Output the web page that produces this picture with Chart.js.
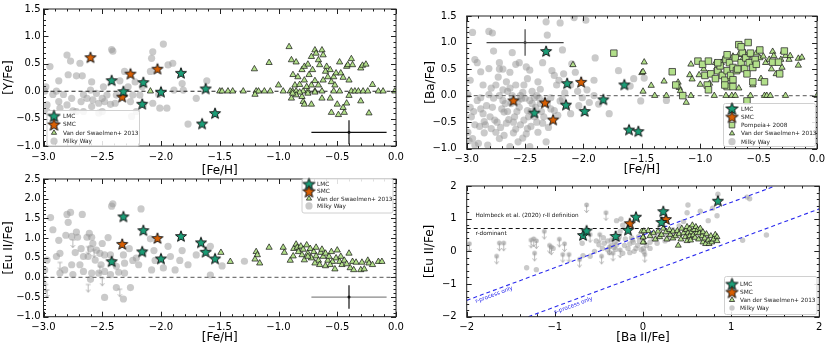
<!DOCTYPE html>
<html>
<head>
<meta charset="utf-8">
<script src="https://cdn.jsdelivr.net/npm/chart.js@4.4.1/dist/chart.umd.min.js"></script>
<style>
  body { margin: 0; background: #fff; }
  #wrap { position: relative; width: 830px; height: 349px; overflow: hidden; background: #fff; }
  #wrap canvas { position: absolute; }
</style>
</head>
<body>
<div id="wrap">
  <canvas id="pY" width="415" height="182" style="left:0;top:0"></canvas>
  <canvas id="pBa" width="415" height="182" style="left:415px;top:0"></canvas>
  <canvas id="pEu" width="415" height="179" style="left:0;top:170px"></canvas>
  <canvas id="pEuBa" width="415" height="179" style="left:415px;top:170px"></canvas>
</div>
<script>
// ---- data: [x, y] pairs ----
// panel a: [Y/Fe] vs [Fe/H]
const lmcY = [[-2.42,0.20],[-2.32,0.00],[-2.15,0.165],[-2.16,-0.23],[-2.00,-0.01],[-1.83,0.335],[-1.62,0.05],[-1.54,-0.40],[-1.65,-0.59]];
const smcY = [[-2.60,0.62],[-2.26,0.32],[-2.33,-0.10],[-2.03,0.41]];
const vdsY = [
  [-2.09,0],[-1.50,0],[-1.48,0],[-1.43,0],[-1.39,0],[-1.30,0],[-1.19,0],[-1.17,0],[-1.12,0],[-1.07,0],[-0.96,0],[-0.90,0],[-0.88,0],[-0.85,0],
  [-0.79,0],[-0.75,0],[-0.69,0],[-0.63,0],[-0.53,0],[-0.48,0],[-0.38,0],[-0.35,0],[-0.32,0],[-0.28,0],[-0.24,0],[-0.15,0],[-0.11,0],[-0.01,0],
  [-1.205,0.405],[-1.08,0.52],[-1.00,0.11],[-1.20,-0.06],[-0.91,0.81],[-0.89,0.57],[-0.85,0.53],[-0.877,0.30],[-0.86,0.11],[-0.835,0.26],
  [-0.82,0.12],[-0.80,0.39],[-0.78,0.45],[-0.78,0.20],[-0.76,0.08],[-0.75,0.49],[-0.74,0.30],[-0.72,0.63],[-0.71,0.39],[-0.69,0.75],
  [-0.68,0.69],[-0.66,0.57],[-0.65,0.48],[-0.63,0.75],[-0.62,0.66],[-0.60,0.36],[-0.59,0.45],[-0.58,0.26],[-0.56,0.39],[-0.55,0.17],
  [-0.53,0.26],[-0.52,0.11],[-0.51,0.33],[-0.48,0.53],[-0.47,0.33],[-0.45,0.25],[-0.42,0.45],[-0.41,0.48],[-0.40,0.20],[-0.38,0.59],
  [-0.37,0.48],[-0.30,0.42],[-0.285,0.47],[-0.256,0.49],[-0.20,0.12],[-0.80,-0.10],[-0.79,-0.19],[-0.78,-0.24],[-0.72,-0.24],[-0.82,-0.02],
  [-0.75,-0.04],[-0.85,-0.07],[-0.69,-0.02],[-0.63,-0.13],[-0.56,-0.13],[-0.55,-0.39],[-0.50,-0.24],[-0.49,-0.43],[-0.45,-0.30],[-0.44,-0.39],
  [-0.42,-0.22],[-0.40,-0.08],[-0.30,-0.18],[-0.23,-0.40],[-0.89,-0.13],[-0.88,-0.04],[-0.72,0.11],[-0.66,0.11],[-0.62,0.20],[-0.69,0.19]
];
const mwY = [
  [-2.98,0.08],[-2.945,0.45],[-2.97,-0.25],[-2.89,0.0],[-2.87,-0.19],[-2.92,-0.06],[-2.87,0.19],[-2.80,0.66],[-2.77,0.55],[-2.79,0.30],
  [-2.83,-0.06],[-2.80,-0.25],[-2.76,-0.13],[-2.75,-0.36],[-2.72,0.28],[-2.69,0.51],[-2.67,0.28],[-2.68,-0.19],[-2.66,-0.06],[-2.60,0.02],
  [-2.59,0.17],[-2.59,-0.28],[-2.58,-0.16],[-2.55,-0.04],[-2.53,-0.22],[-2.50,-0.37],[-2.49,0.08],[-2.48,-0.19],[-2.46,-0.07],[-2.43,-0.24],
  [-2.42,0.76],[-2.41,0.73],[-2.39,-0.22],[-2.38,-0.07],[-2.31,0.36],[-2.28,0.08],[-2.26,-0.19],[-2.24,-0.07],[-2.22,0.17],[-2.21,-0.37],
  [-2.18,-0.07],[-2.16,0.08],[-2.15,-0.24],[-2.09,0.36],[-2.08,0.60],[-2.07,-0.22],[-2.07,0.72],[-2.02,-0.06],[-2.01,-0.31],[-1.98,0.86],
  [-1.95,-0.31],[-1.94,0.48],[-1.90,0.51],[-1.89,0.02],[-1.82,0.14],[-1.81,0.02],[-1.77,-0.60],[-1.70,-0.13],[-1.61,0.19],[-2.92,-0.43],
  [-2.86,-0.31],[-2.72,-0.37],[-2.66,-0.37],[-2.53,-0.40],[-2.63,-0.13],[-2.50,-0.13],[-2.25,-0.46],[-2.99,0.0],[-2.97,-0.37],[-2.35,0.19]
];
const errY = [-0.4, -0.75, 0.32, 0.22];   // x, y, xerr, yerr

// panel b: [Ba/Fe] vs [Fe/H]
const lmcBa = [[-2.32,0.84],[-2.14,0.235],[-2.15,-0.17],[-2.42,-0.32],[-1.99,-0.29],[-1.83,-0.07],[-1.65,0.21],[-1.61,-0.64],[-1.53,-0.67]];
const smcBa = [[-2.60,-0.09],[-2.33,-0.13],[-2.26,-0.45],[-2.02,0.26]];
const pompBa = [
  [-1.74,0.80],[-1.24,0.45],[-1.21,0.20],[-1.15,0.0],[-1.02,0.65],[-0.98,0.59],[-0.93,0.65],[-0.96,0.38],[-0.94,0.20],[-0.93,0.11],
  [-0.91,0.41],[-0.87,0.32],[-0.85,0.47],[-0.83,0.56],[-0.81,0.38],[-0.79,0.29],[-0.78,0.68],[-0.77,0.47],[-0.75,0.62],[-0.74,0.38],
  [-0.72,0.53],[-0.72,0.30],[-0.70,0.71],[-0.69,0.47],[-0.67,0.96],[-0.65,0.62],[-0.64,0.81],[-0.62,0.51],[-0.61,0.71],[-0.60,0.41],
  [-0.59,1.00],[-0.58,0.62],[-0.57,0.80],[-0.55,0.53],[-0.53,0.68],[-0.52,0.59],[-0.55,0.26],[-0.60,-0.10],[-0.77,0.17],[-0.72,0.17],
  [-0.45,0.26],[-0.68,0.50],[-0.38,0.63],[-0.33,0.63],[-0.28,0.84],[-0.32,0.41],[-0.85,0.62],[-0.77,0.77],[-0.65,0.92],[-0.49,0.86],[-0.79,0.20]
];
const vdsBa = [
  [-1.39,0],[-1.29,0],[-1.08,0],[-0.88,0],[-0.78,0],[-0.73,0],[-0.70,0],[-0.57,0],[-0.45,0],[-0.43,0],[-0.40,0],[-0.27,0],[0.0,0],
  [-2.09,0.58],[-1.50,0.43],[-1.48,0.63],[-1.49,0.45],[-1.49,0.08],[-1.42,0.19],[-1.31,0.27],[-1.19,0.25],[-1.18,0.15],[-1.17,0.09],
  [-1.12,-0.13],[-1.08,0.59],[-1.09,0.39],[-1.07,0.31],[-1.01,0.39],[-1.00,0.21],[-0.97,0.50],[-0.93,0.41],[-0.92,0.23],[-0.87,0.62],
  [-0.86,0.53],[-0.83,0.44],[-0.82,0.62],[-0.79,0.71],[-0.77,0.17],[-0.75,0.32],[-0.72,0.74],[-0.67,0.77],[-0.64,0.68],[-0.62,0.81],
  [-0.59,0.74],[-0.55,0.65],[-0.52,0.80],[-0.49,0.71],[-0.46,0.74],[-0.44,0.62],[-0.41,0.68],[-0.38,0.83],[-0.37,0.75],[-0.34,0.63],
  [-0.31,0.68],[-0.30,0.53],[-0.29,0.83],[-0.27,0.75],[-0.24,0.68],[-0.23,0.75],[-0.16,0.70],[-0.16,0.57],[-0.13,0.72],[-0.35,0.41],
  [-0.39,0.50],[-0.48,0.32],[-0.55,0.20],[-0.67,0.14]
];
const mwBa = [
  [-2.95,1.19],[-2.81,1.21],[-2.78,1.18],[-2.32,1.39],[-2.20,1.37],[-2.08,1.47],[-1.98,1.42],[-2.31,1.14],[-2.77,0.84],[-2.61,0.81],
  [-2.18,0.86],[-1.90,0.71],[-2.93,0.68],[-2.91,0.62],[-2.88,0.45],[-2.81,0.51],[-2.97,0.29],[-2.72,0.62],[-2.72,0.50],[-2.73,0.35],
  [-2.63,0.44],[-2.66,0.26],[-2.58,0.59],[-2.55,0.62],[-2.49,0.54],[-2.46,0.48],[-2.48,0.32],[-2.39,0.26],[-2.37,0.12],[-2.27,0.47],
  [-2.25,0.38],[-2.23,0.20],[-2.10,0.60],[-2.05,0.08],[-1.97,0.11],[-1.91,0.29],[-2.01,-0.04],[-1.87,-0.16],[-1.78,-0.34],[-1.70,0.47],
  [-1.57,0.32],[-2.99,0.02],[-2.97,-0.22],[-2.96,-0.40],[-2.99,-0.69],[-2.95,-0.81],[-2.90,-0.90],[-2.89,-0.58],[-2.86,-0.34],[-2.83,-0.19],
  [-2.81,0.02],[-2.79,0.14],[-2.78,-0.22],[-2.76,-0.46],[-2.75,-0.69],[-2.72,-0.81],[-2.69,-0.09],[-2.68,-0.31],[-2.66,-0.52],[-2.65,0.08],
  [-2.63,0.14],[-2.62,-0.15],[-2.61,0.0],[-2.59,-0.40],[-2.58,-0.63],[-2.56,-0.87],[-2.55,-0.22],[-2.53,-0.06],[-2.52,0.06],[-2.51,-0.46],
  [-2.49,-0.72],[-2.48,-0.28],[-2.46,-0.09],[-2.45,-0.58],[-2.44,0.08],[-2.42,-0.40],[-2.41,-0.22],[-2.39,-0.69],[-2.38,-0.04],[-2.35,-0.52],
  [-2.32,-0.87],[-2.88,-0.04],[-2.85,-0.49],[-2.91,-0.09],[-2.72,0.0],[-2.51,0.20],[-2.58,0.20],[-2.69,0.11],[-2.75,0.20],[-2.86,0.20],
  [-2.42,-0.04],[-2.31,-0.16],[-2.28,-0.04],[-2.25,-0.28],[-2.22,-0.37],[-2.18,-0.07],[-2.14,-0.19],[-2.11,-0.34],[-2.04,-0.19],[-1.95,-0.13],
  [-1.91,0.0],[-2.11,0.20],[-2.07,0.44],[-2.17,0.41],[-2.21,0.29],[-2.35,0.62],[-2.69,0.50],[-2.82,-0.93],[-2.63,-0.96],[-2.46,-0.96],
  [-2.93,-0.93],[-1.48,0.33],[-1.51,-0.10],[-1.29,-0.09],[-1.60,0.18],[-2.70,-0.25],[-2.64,-0.45],[-2.57,-0.30],[-2.54,-0.55],[-2.47,-0.40],
  [-2.44,-0.15],[-2.36,-0.30],[-2.33,-0.10],[-2.60,-0.70],[-2.85,-0.70],[-2.93,-0.55],[-2.80,-0.40],[-2.67,-0.15],[-2.50,-0.05],[-2.40,-0.50],
  [-2.30,-0.60],[-2.52,-0.80],[-2.77,-0.05],[-2.98,-0.85],[-2.94,-0.30],[-2.88,-0.25],[-2.84,-0.55],[-2.79,-0.62],[-2.74,-0.50],[-2.71,-0.60],
  [-2.68,-0.75],[-2.65,-0.30],[-2.60,-0.50],[-2.56,-0.10],[-2.54,0.00],[-2.48,-0.62],[-2.45,-0.30],[-2.40,0.00],[-2.37,-0.15],[-2.34,-0.40],
  [-2.28,-0.25],[-2.20,-0.10],[-2.16,0.05]
];
const errBa = [-2.5, 1.0, 0.33, 0.25];

// panel c: [Eu II/Fe] vs [Fe/H]
const lmcEu = [[-2.42,0.41],[-2.32,1.55],[-2.15,1.20],[-2.16,0.66],[-2.00,0.48],[-1.83,1.05],[-1.66,0.89],[-1.62,0.65],[-1.54,0.48]];
const smcEu = [[-2.33,0.85],[-2.03,1.00]];
const vdsEu = [
  [-1.49,0.63],[-1.41,0.40],[-1.19,0.65],[-1.18,0.57],[-1.20,0.46],[-1.16,0.36],[-1.08,0.76],[-0.96,0.76],[-0.95,0.63],[-0.90,0.43],
  [-0.875,0.54],[-0.87,0.73],[-0.85,0.84],[-0.84,0.76],[-0.83,0.65],[-0.81,0.79],[-0.80,0.57],[-0.79,0.71],[-0.78,0.44],[-0.76,0.82],
  [-0.75,0.61],[-0.73,0.73],[-0.72,0.49],[-0.70,0.65],[-0.68,0.76],[-0.68,0.54],[-0.66,0.43],[-0.64,0.63],[-0.63,0.71],[-0.62,0.53],
  [-0.60,0.29],[-0.60,0.61],[-0.58,0.43],[-0.57,0.53],[-0.55,0.65],[-0.54,0.40],[-0.52,0.21],[-0.51,0.49],[-0.50,0.69],[-0.48,0.40],
  [-0.47,0.53],[-0.46,0.32],[-0.44,0.43],[-0.42,0.34],[-0.40,0.61],[-0.39,0.24],[-0.37,0.40],[-0.36,0.19],[-0.34,0.38],[-0.30,0.19],
  [-0.29,0.38],[-0.27,0.21],[-0.24,0.43],[-0.23,0.36],[-0.20,0.32],[-0.15,0.40],[-0.12,0.40],[-0.75,0.53],[-0.69,0.36],[-0.65,0.32],[-0.56,0.32]
];
const mwEu = [
  [-2.94,1.52],[-2.80,1.60],[-2.77,1.65],[-2.67,1.60],[-2.92,1.21],[-2.79,1.40],[-2.81,1.07],[-2.76,1.04],[-2.72,1.15],[-2.71,1.02],
  [-2.87,0.94],[-2.86,0.61],[-2.73,0.63],[-2.68,0.73],[-2.66,0.53],[-2.63,1.02],[-2.61,1.12],[-2.59,1.02],[-2.58,0.86],[-2.60,0.73],
  [-2.55,0.69],[-2.62,0.53],[-2.56,0.44],[-2.52,0.61],[-2.50,0.86],[-2.48,0.57],[-2.45,1.01],[-2.42,1.81],[-2.41,1.87],[-2.43,0.57],
  [-2.32,0.57],[-2.31,0.36],[-2.27,0.73],[-2.24,0.43],[-2.19,0.32],[-2.17,1.74],[-2.09,0.98],[-2.06,0.68],[-2.05,0.43],[-1.98,0.24],
  [-1.94,0.79],[-1.92,0.53],[-1.88,0.19],[-1.84,0.43],[-1.82,0.68],[-1.77,0.32],[-1.70,0.57],[-1.58,0.06],[-1.58,0.79],[-2.97,0.44],
  [-2.99,0.19],[-2.86,0.11],[-2.82,0.19],[-2.75,0.07],[-2.76,0.32],[-2.69,0.32],[-2.66,0.15],[-2.59,0.11],[-2.53,0.11],[-2.48,0.15],
  [-2.43,0.07],[-2.38,-0.26],[-2.48,-0.51],[-2.32,-0.55],[-2.26,-0.26],[-2.38,0.28],[-2.41,0.40],[-2.21,0.49],[-2.51,0.32],[-2.36,0.13],
  [-2.60,-0.05],[-2.31,0.11],[-2.08,0.19],[-2.15,0.65],[-2.89,0.53],[-1.48,0.29],[-1.29,0.41]
];
const mwEuLim = [[-2.99,0.02],[-2.98,-0.18],[-2.97,-0.32],[-2.75,0.95],[-2.62,0.78],[-2.57,0.70],[-2.62,-0.18],[-2.50,-0.02],[-2.35,-0.30],[-2.86,0.38],[-2.52,0.28]];
const errEu = [-0.4, -0.5, 0.32, 0.30];

// panel d: [Eu II/Fe] vs [Ba II/Fe]
const lmcEuBa = [[-0.68,0.50],[-0.64,0.64],[-0.31,0.47],[-0.17,0.66],[-0.08,1.06],[0.21,0.90],[0.23,1.23],[0.85,1.55]];
const smcEuBa = [[-0.15,0.86],[0.26,0.99]];
const vdsEuBa = [
  [-0.015,0.61],[0.004,0.44],[0.01,0.28],[0.06,0.63],[0.08,0.47],[0.12,0.56],[0.14,0.37],[0.17,0.61],[0.19,0.44],[0.21,0.51],
  [0.23,0.70],[0.26,0.59],[0.27,0.37],[0.30,0.66],[0.31,0.51],[0.34,0.40],[0.34,0.61],[0.37,0.47],[0.39,0.63],[0.40,0.18],
  [0.41,0.53],[0.43,0.37],[0.44,0.70],[0.46,0.56],[0.48,0.44],[0.49,0.66],[0.50,0.75],[0.50,0.32],[0.51,0.56],[0.53,0.47],
  [0.53,0.70],[0.54,0.34],[0.55,0.59],[0.56,0.80],[0.57,0.50],[0.58,0.66],[0.59,0.42],[0.60,0.75],[0.61,0.56],[0.62,0.66],
  [0.63,0.37],[0.64,0.56],[0.65,0.70],[0.67,0.47],[0.68,0.28],[0.68,0.59],[0.70,0.40],[0.71,0.23],[0.72,0.53],[0.74,0.34],
  [0.75,0.23],[0.77,0.47],[0.78,0.28],[0.80,0.37],[0.82,0.51],[0.84,0.44],[0.84,0.32],[0.0,0.43],[0.0,0.28],[0.01,0.62]
];
const mwEuBa = [
  [-1.21,-0.56],[-1.02,0.09],[-0.69,0.25],[-0.53,0.32],[-0.45,0.42],[-0.40,0.32],[-0.32,0.28],[-0.28,0.37],[-0.26,0.61],[-0.23,0.80],
  [-0.25,0.99],[-0.30,0.94],[-0.36,0.18],[-0.31,0.06],[-0.21,0.18],[-0.17,0.09],[-0.15,0.23],[-0.11,0.28],[-0.08,0.09],[-0.06,0.18],
  [-0.04,0.32],[-0.13,0.42],[-0.60,-0.15],[-0.68,-0.13],[-0.55,0.0],[-0.46,0.09],[-0.38,-0.04],[-0.23,-0.06],[-0.15,-0.04],[0.004,0.09],
  [0.04,0.18],[0.08,0.28],[0.12,0.37],[0.17,0.44],[0.25,0.32],[0.29,0.37],[0.34,0.66],[0.41,0.78],[0.46,0.91],[0.50,1.18],
  [0.51,1.42],[0.65,1.23],[0.74,0.94],[0.79,1.32],[0.84,1.09],[0.85,1.75],[1.18,1.66],[1.21,1.61],[1.13,0.34],[1.40,0.50],
  [0.01,-0.01],[0.08,0.09],[0.16,0.25],[0.27,0.47],[0.33,0.56],[0.53,0.47],[0.67,0.42],[0.72,0.47],[-1.32,-0.50],
  [-0.50,0.20],[-0.44,0.25],[-0.36,0.35],[-0.30,0.20],[-0.27,0.45],[-0.20,0.38],[-0.12,0.35],[-0.05,0.45],[-0.40,0.05],[-0.33,0.12],
  [-0.10,0.00],[-0.02,0.05]
];
const mwEuBaLim = [
  [-1.97,0.23],[-1.66,-0.15],[-1.63,0.25],[-1.58,0.25],[-1.27,0.34],[-1.23,-0.06],[-1.21,0.32],[-1.12,0.61],[-1.06,0.18],[-1.04,0.13],
  [-0.95,0.37],[-0.91,-0.10],[-0.89,0.23],[-0.84,-0.10],[-0.72,-0.25],[-0.64,1.42],[-0.42,1.18],[-0.49,0.51],[-0.38,0.13],[-0.34,-0.06],
  [-0.26,0.04],[-0.47,-0.15],[-0.60,0.51],[0.02,-0.10],[-1.24,0.38]
];
const rOnlyLine = [[-2, -1.5], [1.5, 2]];
const sOnlyLine = [[-1.3, -2], [2, 1.3]];
const rIILine = [[-2, 0.7], [0.3, 0.7]];
const zeroLine = [[-3, 0], [0, 0]];

// ---- styling ----
const LMC_COL = '#1b9e77', SMC_COL = '#d95f02', GREEN = '#b2df8a';
const MW_COL = 'rgba(150,150,150,0.5)';
Chart.defaults.font.family = 'DejaVu Sans';
Chart.defaults.color = '#000';

function starImg(fill, r) {
  const s = Math.ceil(r * 2 + 4);
  const c = document.createElement('canvas');
  c.width = c.height = s;
  const g = c.getContext('2d');
  g.beginPath();
  for (let i = 0; i < 10; i++) {
    const rr = i % 2 ? r * 0.42 : r;
    const a = -Math.PI / 2 + i * Math.PI / 5;
    g.lineTo(s / 2 + rr * Math.cos(a), s / 2 + 0.6 + rr * Math.sin(a));
  }
  g.closePath();
  g.fillStyle = fill;
  g.fill();
  g.strokeStyle = '#111';
  g.lineWidth = 1;
  g.stroke();
  return c;
}

// grey upper-limit marker: point on top, arrow pointing down
function limImg(dot) {
  const c = document.createElement('canvas');
  c.width = 9; c.height = 18;
  const g = c.getContext('2d');
  g.strokeStyle = g.fillStyle = 'rgba(150,150,150,0.65)';
  g.lineWidth = 1;
  if (dot) {
    g.beginPath(); g.arc(4.5, 9, 2.4, 0, Math.PI * 2); g.fill();
  } else {
    g.beginPath(); g.moveTo(2, 9); g.lineTo(7, 9); g.stroke();
  }
  g.beginPath(); g.moveTo(4.5, 9); g.lineTo(4.5, 16.5); g.stroke();
  g.beginPath(); g.moveTo(2.3, 14); g.lineTo(4.5, 16.8); g.lineTo(6.7, 14); g.stroke();
  return c;
}

const starL = starImg(LMC_COL, 5.8), starS = starImg(SMC_COL, 5.8);
const starLbig = starImg(LMC_COL, 6.4), starSbig = starImg(SMC_COL, 6.4);

const pts = a => a.map(([x, y]) => ({ x, y }));

const lmcSet = a => ({ label: 'LMC', data: pts(a), pointStyle: starL, legendImg: starLbig, pointRadius: 6 });
const smcSet = a => ({ label: 'SMC', data: pts(a), pointStyle: starS, legendImg: starSbig, pointRadius: 6 });
const vdsSet = (a, r) => ({ label: 'Van der Swaelmen+ 2013', data: pts(a), pointStyle: 'triangle', pointRadius: r || 3.6,
  backgroundColor: GREEN, borderColor: '#111', borderWidth: 0.7, legendR: 3 });
const pompSet = a => ({ label: 'Pompeia+ 2008', data: pts(a), pointStyle: 'rect', pointRadius: 4.6,
  backgroundColor: GREEN, borderColor: '#333', borderWidth: 0.8, legendR: 4 });
const mwSet = (a, r) => ({ label: 'Milky Way', data: pts(a), pointStyle: 'circle', pointRadius: r,
  backgroundColor: MW_COL, borderWidth: 0, legendR: r });
const limSet = (a, img) => ({ data: pts(a), pointStyle: img, pointRadius: 4 });
const lineSet = (a, col, dash) => ({ data: pts(a), showLine: true, pointRadius: 0, borderColor: col,
  borderWidth: 1.1, borderDash: dash || [4, 3], fill: false });

// ---- plugins ----
const frame = {
  id: 'frame',
  afterDatasetsDraw(chart, args, o) {
    const { ctx, chartArea: a, scales: { x, y } } = chart;
    ctx.save();
    ctx.strokeStyle = '#222';
    ctx.lineWidth = 1;
    const seg = (x1, y1, x2, y2) => { ctx.beginPath(); ctx.moveTo(x1, y1); ctx.lineTo(x2, y2); ctx.stroke(); };
    const marks = (sc, step, len) => {
      const n = Math.round((sc.max - sc.min) / step);
      for (let i = 0; i <= n; i++) {
        const p = Math.round(sc.getPixelForValue(sc.min + i * step)) + 0.5;
        if (sc.isHorizontal()) { seg(p, a.bottom, p, a.bottom - len); seg(p, a.top, p, a.top + len); }
        else { seg(a.left, p, a.left + len, p); seg(a.right, p, a.right - len, p); }
      }
    };
    marks(x, o.xMinor, 2.5); marks(y, o.yMinor, 2.5);
    marks(x, o.xMajor, 5); marks(y, o.yMajor, 5);
    ctx.strokeRect(a.left, a.top, a.right - a.left, a.bottom - a.top);
    ctx.restore();
  }
};

const errbar = {
  id: 'errbar',
  afterDatasetsDraw(chart, args, o) {
    if (!o.v) return;
    const { ctx, scales: { x, y } } = chart;
    const [vx, vy, ex, ey] = o.v;
    const px = x.getPixelForValue(vx), py = y.getPixelForValue(vy);
    ctx.save();
    ctx.lineWidth = 1.2;
    ctx.strokeStyle = o.hColor;
    ctx.beginPath(); ctx.moveTo(x.getPixelForValue(vx - ex), py); ctx.lineTo(x.getPixelForValue(vx + ex), py); ctx.stroke();
    ctx.strokeStyle = o.vColor;
    ctx.beginPath(); ctx.moveTo(px, y.getPixelForValue(vy - ey)); ctx.lineTo(px, y.getPixelForValue(vy + ey)); ctx.stroke();
    ctx.fillStyle = o.vColor;
    ctx.beginPath(); ctx.arc(px, py, 1.5, 0, Math.PI * 2); ctx.fill();
    ctx.restore();
  }
};

const notes = {
  id: 'notes',
  afterDatasetsDraw(chart, args, o) {
    if (!o.items) return;
    const { ctx, scales: { x, y } } = chart;
    ctx.save();
    ctx.font = '5.7px "DejaVu Sans"';
    ctx.textBaseline = 'middle';
    o.items.forEach(it => {
      ctx.save();
      ctx.translate(x.getPixelForValue(it.x), y.getPixelForValue(it.y));
      if (it.along) {
        const [[x1, y1], [x2, y2]] = it.along;
        ctx.rotate(Math.atan2(y.getPixelForValue(y2) - y.getPixelForValue(y1), x.getPixelForValue(x2) - x.getPixelForValue(x1)));
      }
      ctx.fillStyle = it.color || '#111';
      ctx.textAlign = it.align || 'left';
      ctx.fillText(it.text, 0, 0);
      ctx.restore();
    });
    ctx.restore();
  }
};

const box = {
  id: 'box',
  afterDraw(chart, args, o) {
    const { ctx } = chart;
    const sets = chart.data.datasets.filter(d => d.label);
    ctx.save();
    ctx.fillStyle = 'rgba(255,255,255,0.85)';
    ctx.strokeStyle = '#d0d0d0';
    ctx.lineWidth = 1;
    ctx.beginPath();
    ctx.roundRect(o.x + 0.5, o.y + 0.5, o.w, o.h, 2);
    ctx.fill(); ctx.stroke();
    ctx.font = '5.8px "DejaVu Sans"';
    ctx.textBaseline = 'middle';
    sets.forEach((d, i) => {
      const cy = o.y + o.first + i * o.step, cx = o.x + o.mx;
      if (d.legendImg) {
        ctx.drawImage(d.legendImg, cx - d.legendImg.width / 2, cy - d.legendImg.height / 2);
      } else {
        ctx.fillStyle = d.backgroundColor;
        ctx.strokeStyle = d.borderColor || 'transparent';
        ctx.lineWidth = d.borderWidth || 0;
        const r = d.legendR;
        ctx.beginPath();
        if (d.pointStyle === 'triangle') {
          ctx.moveTo(cx, cy - r); ctx.lineTo(cx + r * 0.87, cy + r / 2); ctx.lineTo(cx - r * 0.87, cy + r / 2); ctx.closePath();
        } else if (d.pointStyle === 'rect') {
          ctx.rect(cx - r * 0.7, cy - r * 0.7, r * 1.4, r * 1.4);
        } else {
          ctx.arc(cx, cy, r, 0, Math.PI * 2);
        }
        ctx.fill();
        if (d.borderWidth) ctx.stroke();
      }
      ctx.fillStyle = '#222';
      ctx.fillText(d.label, o.x + o.tx, cy + 0.5);
    });
    ctx.restore();
  }
};

const fmt1 = v => (v < 0 ? '\u2212' : '') + Math.abs(v).toFixed(1);
const fmt0 = v => (v < 0 ? '\u2212' : '') + Math.abs(v).toFixed(0);

function panel(id, p) {
  const cv = document.getElementById(id);
  const W = cv.width, H = cv.height;
  return new Chart(cv, {
    type: 'scatter',
    data: { datasets: p.datasets },
    options: {
      responsive: false,
      animation: false,
      events: [],
      layout: { padding: { left: 0, top: p.area[2], right: W - p.area[1], bottom: 0 } },
      scales: {
        x: {
          type: 'linear', min: p.x[0], max: p.x[1],
          afterFit: s => { s.height = H - p.area[3]; },
          grid: { display: false, drawTicks: false },
          border: { display: false },
          ticks: { stepSize: p.x[2], padding: 5, autoSkip: false, maxRotation: 0, font: { size: 10 }, callback: p.xFmt },
          title: { display: true, text: p.xTitle, font: { size: 12 }, padding: { top: 0, bottom: p.xTitlePad } }
        },
        y: {
          type: 'linear', min: p.y[0], max: p.y[1],
          afterFit: s => { s.width = p.area[0]; },
          grid: { display: false, drawTicks: false },
          border: { display: false },
          ticks: { stepSize: p.y[2], padding: p.yTickPad, autoSkip: false, font: { size: 10 }, callback: p.yFmt },
          title: { display: true, text: p.yTitle, font: { size: 12 }, padding: { top: p.yTitlePad, bottom: 0 } }
        }
      },
      plugins: {
        legend: { display: false },
        tooltip: { enabled: false },
        frame: { xMajor: p.x[2], xMinor: p.x[3], yMajor: p.y[2], yMinor: p.y[3] },
        errbar: p.err || {},
        notes: { items: p.notes },
        box: p.legend
      }
    },
    plugins: [frame, errbar, notes, box]
  });
}

panel('pY', {
  area: [43.5, 396, 8.5, 146],
  x: [-3, 0, 0.5, 0.1], y: [-1, 1.5, 0.5, 0.1],
  xFmt: fmt1, yFmt: fmt1, xTitle: '[Fe/H]', yTitle: '[Y/Fe]',
  xTitlePad: 3.8, yTitlePad: 2, yTickPad: 3,
  datasets: [lmcSet(lmcY), smcSet(smcY), vdsSet(vdsY), lineSet(zeroLine, '#222'), mwSet(mwY, 3.6)],
  err: { v: errY, hColor: '#111', vColor: '#111' },
  legend: { x: 46.5, y: 110, w: 92.5, h: 35.5, first: 6, step: 8.4, mx: 7.5, tx: 16.5 }
});

panel('pBa', {
  area: [51.7, 404.3, 9, 148.7],
  x: [-3, 0, 0.5, 0.1], y: [-1, 1.5, 0.5, 0.1],
  xFmt: fmt1, yFmt: fmt1, xTitle: '[Fe/H]', yTitle: '[Ba/Fe]',
  xTitlePad: 4.8, yTitlePad: 9, yTickPad: 10,
  datasets: [lmcSet(lmcBa), smcSet(smcBa), pompSet(pompBa), vdsSet(vdsBa), lineSet(zeroLine, '#777'), mwSet(mwBa, 3.6)],
  err: { v: errBa, hColor: '#444', vColor: '#444' },
  legend: { x: 308, y: 103, w: 92, h: 43, first: 5.5, step: 8.3, mx: 9, tx: 18 }
});

panel('pEu', {
  area: [43.5, 396, 6, 146.7],
  x: [-3, 0, 0.5, 0.1], y: [-1, 2.5, 0.5, 0.1],
  xFmt: fmt1, yFmt: fmt1, xTitle: '[Fe/H]', yTitle: '[Eu II/Fe]',
  xTitlePad: 3.8, yTitlePad: 2, yTickPad: 3,
  datasets: [lmcSet(lmcEu), smcSet(smcEu), vdsSet(vdsEu), lineSet(zeroLine, '#777'), mwSet(mwEu, 3.6), limSet(mwEuLim, limImg(false))],
  err: { v: errEu, hColor: '#888', vColor: '#111' },
  legend: { x: 301.5, y: 8, w: 91, h: 34.5, first: 6, step: 7.3, mx: 7.5, tx: 15.5 }
});

panel('pEuBa', {
  area: [51.7, 404.3, 6.7, 146.7],
  x: [-2, 2, 1, 0.2], y: [-2, 2, 1, 0.2],
  xFmt: fmt0, yFmt: fmt0, xTitle: '[Ba II/Fe]', yTitle: '[Eu II/Fe]',
  xTitlePad: 3.8, yTitlePad: 8, yTickPad: 10,
  datasets: [lmcSet(lmcEuBa), smcSet(smcEuBa), vdsSet(vdsEuBa, 3.4), lineSet(rIILine, '#111'),
    lineSet(rOnlyLine, '#2a2aee'), lineSet(sOnlyLine, '#2a2aee'), mwSet(mwEuBa, 2.7), limSet(mwEuBaLim, limImg(true))],
  notes: [
    { text: 'Holmbeck et al. (2020) r-II definition', x: -1.9, y: 1.1 },
    { text: 'r-dominant', x: -1.9, y: 0.54 },
    { text: 'r-process only', x: -1.69, y: -1.33, along: rOnlyLine, color: '#2a2aee', align: 'center' },
    { text: 's-process only', x: -0.79, y: -1.66, along: sOnlyLine, color: '#2a2aee', align: 'center' }
  ],
  legend: { x: 309, y: 106, w: 92.5, h: 38, first: 8, step: 8, mx: 8, tx: 16 }
});
</script>
</body>
</html>
